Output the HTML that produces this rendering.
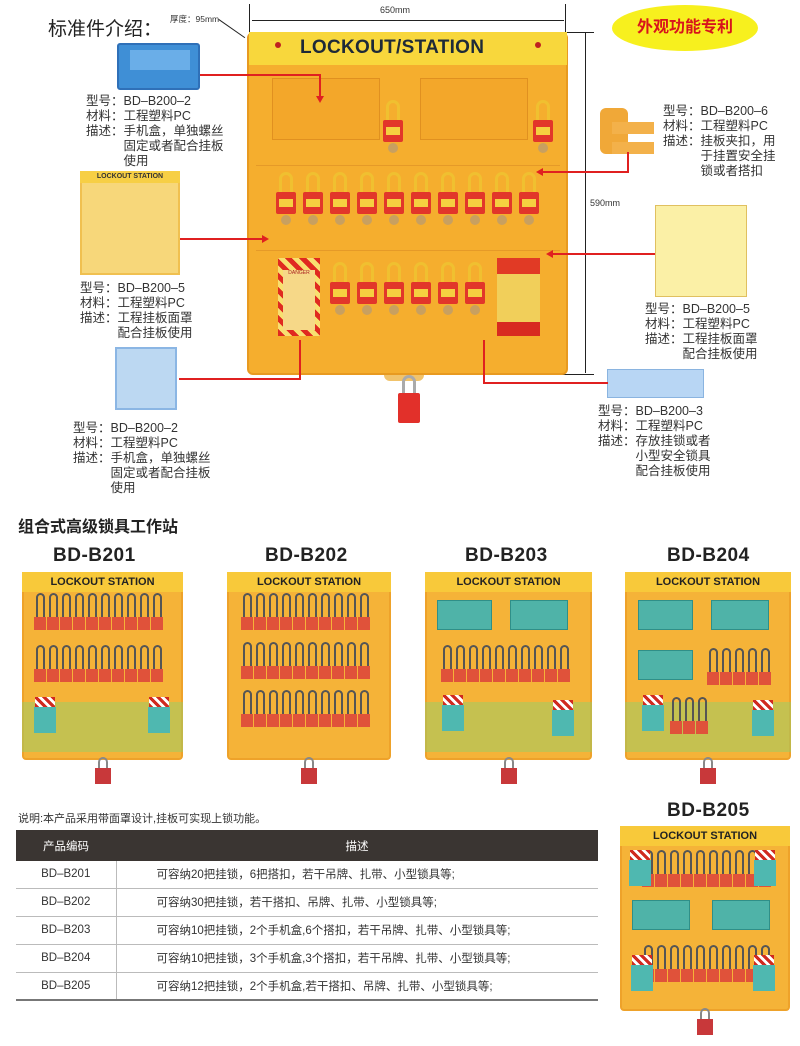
<!DOCTYPE html>
<html><head><meta charset="utf-8"><style>
*{margin:0;padding:0;box-sizing:border-box}
body{width:800px;height:1046px;background:#fff;position:relative;overflow:hidden;font-family:"Liberation Sans","Noto Sans CJK SC",sans-serif;color:#222}
.a{position:absolute}
.t{position:absolute;font-size:12.5px;line-height:15px;color:#333;white-space:nowrap}
.rl{position:absolute;background:#e02020}
.bl{position:absolute;background:#222}
.ttl{position:absolute;font-weight:bold;font-size:19px;color:#222;letter-spacing:.5px}
table{border-collapse:collapse}
</style></head><body>
<div class="a" style="left:48px;top:14px;font-size:19px;color:#222">标准件介绍：</div>
<div class="a" style="left:170px;top:13px;font-size:8.5px;color:#333">厚度：95mm</div>
<div class="bl" style="left:219px;top:19px;width:32px;height:1px;transform:rotate(35deg);transform-origin:0 0"></div>
<!-- dims -->
<div class="bl" style="left:249px;top:4px;width:1px;height:30px"></div>
<div class="bl" style="left:565px;top:4px;width:1px;height:30px"></div>
<div class="bl" style="left:252px;top:20px;width:312px;height:1px"></div>
<div class="a" style="left:380px;top:5px;font-size:9px;color:#333">650mm</div>
<div class="bl" style="left:585px;top:33px;width:1px;height:340px"></div>
<div class="bl" style="left:562px;top:32px;width:32px;height:1px"></div>
<div class="bl" style="left:562px;top:374px;width:32px;height:1px"></div>
<div class="a" style="left:590px;top:198px;font-size:9px;color:#333;background:#fff">590mm</div>
<!-- patent oval -->
<div class="a" style="left:612px;top:5px;width:146px;height:46px;border-radius:50%;background:#f7f01e;text-align:center;line-height:46px;font-weight:bold;font-size:16px;color:#d8141c">外观功能专利</div>

<!-- main board -->
<div class="a" style="left:247px;top:32px;width:321px;height:343px;background:#f5ae2e;border-radius:6px;border:2px solid #e89a20"></div>
<div class="a" style="left:249px;top:32px;width:318px;height:33px;background:#f8d73c"></div>
<div class="a" style="left:275px;top:42px;width:6px;height:6px;border-radius:50%;background:#c02020"></div>
<div class="a" style="left:535px;top:42px;width:6px;height:6px;border-radius:50%;background:#c02020"></div>
<div class="a" style="left:300px;top:37px;font-weight:bold;font-size:19px;color:#1e2a38;letter-spacing:.3px">LOCKOUT/STATION</div>
<div class="a" style="left:272px;top:78px;width:108px;height:62px;background:#f3a72a;border:1px solid #e09020"></div>
<div class="a" style="left:420px;top:78px;width:108px;height:62px;background:#f3a72a;border:1px solid #e09020"></div>
<div class="a" style="left:256px;top:165px;width:304px;height:1px;background:#e59a28"></div>
<div class="a" style="left:256px;top:250px;width:304px;height:1px;background:#e59a28"></div>
<div class="a" style="left:278px;top:258px;width:42px;height:78px;background:repeating-linear-gradient(45deg,#e02a20 0 5px,#f8e070 5px 10px)"></div>
<div class="a" style="left:283px;top:270px;width:32px;height:60px;background:#f6d888;font-size:5px;text-align:center;color:#a22">DANGER</div>
<div class="a" style="left:497px;top:258px;width:43px;height:78px;background:#f1cf5a;border-top:16px solid #e13a25;border-bottom:14px solid #d82a20"></div>
<div class="a" style="left:384px;top:375px;width:40px;height:6px;background:#f1c36b;border-radius:0 0 8px 8px"></div>
<div id="mainlocks"></div>

<!-- left items -->
<div class="a" style="left:117px;top:43px;width:83px;height:47px;background:#3f8fd6;border:2px solid #2f70b8;border-radius:3px"></div>
<div class="a" style="left:130px;top:50px;width:60px;height:20px;background:#6aaee8"></div>
<div class="t" style="left:86px;top:94px">型号：BD–B200–2<br>材料：工程塑料PC<br>描述：手机盒，单独螺丝<br>　　　固定或者配合挂板<br>　　　使用</div>
<div class="a" style="left:80px;top:171px;width:100px;height:104px;background:#f7d77a;border:2px solid #f0c050"></div>
<div class="a" style="left:80px;top:171px;width:100px;height:12px;background:#f7cf45;font-size:7px;font-weight:bold;text-align:center;line-height:12px;color:#333">LOCKOUT STATION</div>
<div class="t" style="left:80px;top:281px">型号：BD–B200–5<br>材料：工程塑料PC<br>描述：工程挂板面罩<br>　　　配合挂板使用</div>
<div class="a" style="left:115px;top:347px;width:62px;height:63px;background:#bcd8f2;border:2px solid #8bb6e4"></div>
<div class="t" style="left:73px;top:421px">型号：BD–B200–2<br>材料：工程塑料PC<br>描述：手机盒，单独螺丝<br>　　　固定或者配合挂板<br>　　　使用</div>

<!-- right items -->
<div class="a" style="left:600px;top:108px;width:28px;height:46px;background:#f0a838;border-radius:6px"></div>
<div class="a" style="left:612px;top:122px;width:42px;height:12px;background:#f3b14a"></div>
<div class="a" style="left:612px;top:142px;width:42px;height:12px;background:#f3b14a"></div>
<div class="t" style="left:663px;top:104px">型号：BD–B200–6<br>材料：工程塑料PC<br>描述：挂板夹扣，用<br>　　　于挂置安全挂<br>　　　锁或者搭扣</div>
<div class="a" style="left:655px;top:205px;width:92px;height:92px;background:#fbf0a6;border:1px solid #e0c060"></div>
<div class="t" style="left:645px;top:302px">型号：BD–B200–5<br>材料：工程塑料PC<br>描述：工程挂板面罩<br>　　　配合挂板使用</div>
<div class="a" style="left:607px;top:369px;width:97px;height:29px;background:#b8d6f4;border:1px solid #8ab4e0"></div>
<div class="t" style="left:598px;top:404px">型号：BD–B200–3<br>材料：工程塑料PC<br>描述：存放挂锁或者<br>　　　小型安全锁具<br>　　　配合挂板使用</div>

<!-- red connectors -->
<div class="rl" style="left:200px;top:74px;width:120px;height:2px"></div>
<div class="rl" style="left:319px;top:74px;width:2px;height:24px"></div>
<div class="a" style="left:316px;top:96px;border:4px solid transparent;border-top:7px solid #e02020"></div>
<div class="rl" style="left:180px;top:238px;width:84px;height:2px"></div>
<div class="a" style="left:262px;top:235px;border:4px solid transparent;border-left:7px solid #e02020"></div>
<div class="rl" style="left:179px;top:378px;width:121px;height:2px"></div>
<div class="rl" style="left:299px;top:340px;width:2px;height:40px"></div>
<div class="rl" style="left:627px;top:152px;width:2px;height:21px"></div>
<div class="rl" style="left:538px;top:171px;width:90px;height:2px"></div>
<div class="a" style="left:532px;top:168px;border:4px solid transparent;border-right:7px solid #e02020"></div>
<div class="rl" style="left:548px;top:253px;width:107px;height:2px"></div>
<div class="a" style="left:542px;top:250px;border:4px solid transparent;border-right:7px solid #e02020"></div>
<div class="rl" style="left:484px;top:382px;width:124px;height:2px"></div>
<div class="rl" style="left:483px;top:340px;width:2px;height:44px"></div>

<div class="a" style="left:18px;top:513px;font-size:16px;font-weight:bold;color:#222">组合式高级锁具工作站</div>
<div class="ttl" style="left:53px;top:545px">BD-B201</div>
<div class="ttl" style="left:265px;top:545px">BD-B202</div>
<div class="ttl" style="left:465px;top:545px">BD-B203</div>
<div class="ttl" style="left:667px;top:545px">BD-B204</div>
<div class="ttl" style="left:667px;top:800px">BD-B205</div>
<div id="boards"></div>

<div class="a" style="left:18px;top:810px;font-size:11px;color:#333">说明:本产品采用带面罩设计,挂板可实现上锁功能。</div>
<table class="a" style="left:16px;top:830px;width:582px;font-size:11.5px;color:#333">
<tr style="background:#3a3532;color:#fff;height:31px"><td style="width:100px;text-align:center">产品编码</td><td style="text-align:center">描述</td></tr>
<tr style="height:27px;border-bottom:1px solid #bbb"><td style="text-align:center;border-right:1px solid #bbb">BD–B201</td><td style="padding-left:40px">可容纳20把挂锁，6把搭扣，若干吊牌、扎带、小型锁具等;</td></tr>
<tr style="height:28px;border-bottom:1px solid #bbb"><td style="text-align:center;border-right:1px solid #bbb">BD–B202</td><td style="padding-left:40px">可容纳30把挂锁，若干搭扣、吊牌、扎带、小型锁具等;</td></tr>
<tr style="height:28px;border-bottom:1px solid #bbb"><td style="text-align:center;border-right:1px solid #bbb">BD–B203</td><td style="padding-left:40px">可容纳10把挂锁，2个手机盒,6个搭扣，若干吊牌、扎带、小型锁具等;</td></tr>
<tr style="height:28px;border-bottom:1px solid #bbb"><td style="text-align:center;border-right:1px solid #bbb">BD–B204</td><td style="padding-left:40px">可容纳10把挂锁，3个手机盒,3个搭扣，若干吊牌、扎带、小型锁具等;</td></tr>
<tr style="height:28px;border-bottom:2px solid #777"><td style="text-align:center;border-right:1px solid #bbb">BD–B205</td><td style="padding-left:40px">可容纳12把挂锁，2个手机盒,若干搭扣、吊牌、扎带、小型锁具等;</td></tr>
</table>

<script>
function el(p,s,h){var d=document.createElement('div');d.className='a';d.style.cssText=s;if(h)d.innerHTML=h;p.appendChild(d);return d;}
var M=document.getElementById('mainlocks');
function bigLock(x,y){el(M,'left:'+(x+3)+'px;top:'+y+'px;width:14px;height:22px;border:3px solid #f0c030;border-bottom:none;border-radius:7px 7px 0 0');
el(M,'left:'+x+'px;top:'+(y+20)+'px;width:20px;height:22px;background:#e2362a;border-radius:2px');
el(M,'left:'+(x+3)+'px;top:'+(y+27)+'px;width:14px;height:8px;background:#f5d040');
el(M,'left:'+(x+5)+'px;top:'+(y+43)+'px;width:10px;height:10px;background:#c8a060;border-radius:50%');}
for(var i=0;i<10;i++)bigLock(276+i*27,172);
for(var i=0;i<6;i++)bigLock(330+i*27,262);
bigLock(383,100);bigLock(533,100);
el(M,'left:402px;top:375px;width:14px;height:20px;border:3px solid #aaa;border-bottom:none;border-radius:7px 7px 0 0');
el(M,'left:398px;top:393px;width:22px;height:30px;background:#e2302a;border-radius:2px');
var B=document.getElementById('boards');
function board(x,y,w,h,rows){
 el(B,'left:'+x+'px;top:'+y+'px;width:'+w+'px;height:'+h+'px;background:#f5b338;border:2px solid #eea22a;border-radius:4px');
 el(B,'left:'+x+'px;top:'+y+'px;width:'+w+'px;height:20px;background:#f8c93a;font-weight:bold;font-size:11px;text-align:center;line-height:20px;color:#222','LOCKOUT STATION');
 el(B,'left:'+(x+w/2-5)+'px;top:'+(y+h-3)+'px;width:10px;height:12px;border:2px solid #888;border-bottom:none;border-radius:5px 5px 0 0');
 el(B,'left:'+(x+w/2-8)+'px;top:'+(y+h+8)+'px;width:16px;height:16px;background:#c8383a');
 rows.forEach(function(r){
  if(r.t=='L'){for(var i=0;i<r.n;i++){var lx=x+(r.x||12)+i*13;el(B,'left:'+(lx+2)+'px;top:'+r.y+'px;width:9px;height:26px;border:2px solid #555;border-bottom:none;border-radius:5px 5px 0 0');el(B,'left:'+lx+'px;top:'+(r.y+24)+'px;width:12px;height:13px;background:#e0523a');}}
  if(r.t=='B'){el(B,'left:'+(x+r.x)+'px;top:'+r.y+'px;width:'+r.w+'px;height:30px;background:#4fb3a8;border:1px solid #2f8f88');}
  if(r.t=='C'){el(B,'left:'+x+'px;top:'+r.y+'px;width:'+w+'px;height:'+r.h+'px;background:rgba(140,210,110,.45)');}
  if(r.t=='S'){el(B,'left:'+(x+r.x)+'px;top:'+r.y+'px;width:20px;height:10px;background:repeating-linear-gradient(45deg,#d02a20 0 3px,#fff 3px 6px)');el(B,'left:'+(x+r.x-1)+'px;top:'+(r.y+10)+'px;width:22px;height:26px;background:#4fb8b0');}
 });
}
board(22,572,161,188,[{t:'L',n:10,y:593},{t:'L',n:10,y:645},{t:'C',y:702,h:50},{t:'S',x:13,y:697},{t:'S',x:127,y:697}]);
board(227,572,164,188,[{t:'L',n:10,y:593,x:14},{t:'L',n:10,y:642,x:14},{t:'L',n:10,y:690,x:14}]);
board(425,572,167,188,[{t:'B',x:12,y:600,w:55},{t:'B',x:85,y:600,w:58},{t:'L',n:10,y:645,x:16},{t:'C',y:702,h:50},{t:'S',x:18,y:695},{t:'S',x:128,y:700}]);
board(625,572,166,188,[{t:'B',x:13,y:600,w:55},{t:'B',x:86,y:600,w:58},{t:'B',x:13,y:650,w:55},{t:'L',n:5,y:648,x:82},{t:'C',y:702,h:50},{t:'L',n:3,y:697,x:45},{t:'S',x:18,y:695},{t:'S',x:128,y:700}]);
board(620,826,170,185,[{t:'L',n:10,y:850,x:22},{t:'S',x:10,y:850},{t:'S',x:135,y:850},{t:'B',x:12,y:900,w:58},{t:'B',x:92,y:900,w:58},{t:'L',n:10,y:945,x:22},{t:'S',x:12,y:955},{t:'S',x:134,y:955}]);
</script>
</body></html>
